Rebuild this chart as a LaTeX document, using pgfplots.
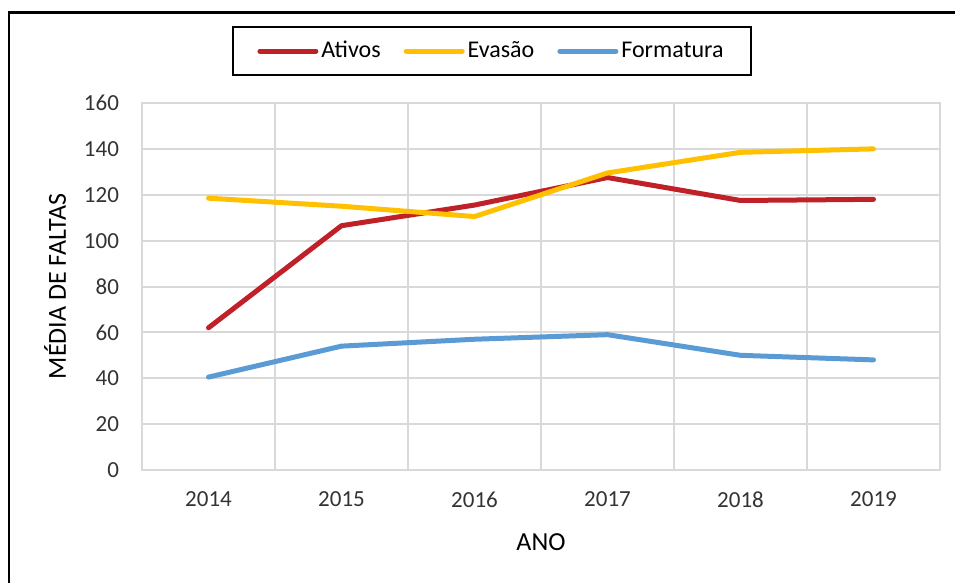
\documentclass[border=0pt]{standalone}
\usepackage{pgfplots}
\pgfplotsset{compat=1.18}
\usepackage{fontspec}
\setmainfont{Carlito}
\definecolor{ativos}{RGB}{192,32,40}
\definecolor{evasao}{RGB}{255,192,0}
\definecolor{formatura}{RGB}{91,155,213}
\definecolor{gridgray}{RGB}{217,217,217}
\definecolor{ticktext}{RGB}{51,51,51}
\begin{document}
\begin{tikzpicture}
% page = 955 x 583 px, 1 px = 0.5 pt
\useasboundingbox (0pt,0pt) rectangle (477.5pt,-291.5pt);
\draw[line width=1.2pt] (4.5pt,-300pt) -- (4.5pt,-6.25pt) -- (490pt,-6.25pt);
\begin{axis}[
    at={(71pt,-235pt)}, anchor=south west,
    scale only axis,
    width=399pt, height=183.5pt,
    xmin=-0.5, xmax=5.5,
    ymin=0, ymax=160,
    xtick={0,1,2,3,4,5},
    xticklabels={2014,2015,2016,2017,2018,2019},
    minor xtick={-0.5,0.5,1.5,2.5,3.5,4.5,5.5},
    ytick={0,20,40,60,80,100,120,140,160},
    xminorgrids, ymajorgrids,
    major tick length=0pt, minor tick length=0pt,
    axis line style={draw=gridgray, line width=1pt},
    grid style={draw=gridgray, line width=1pt},
    minor grid style={draw=gridgray, line width=1pt},
    /pgf/number format/assume math mode=true,
    tick label style={font=\fontsize{11.5}{13}\selectfont, text=ticktext},
    yticklabel style={xshift=-8pt},
    xticklabel style={yshift=-7.5pt},
    xlabel={ANO},
    ylabel={MÉDIA DE FALTAS},
    label style={font=\fontsize{13}{15}\selectfont},
    xlabel style={at={(axis description cs:0.5,0)}, anchor=center, yshift=-36pt},
    ylabel style={at={(axis description cs:0,0.5)}, anchor=center, yshift=43.5pt},
    legend columns=3,
    legend cell align=left,
    legend image code/.code={\draw[#1] (0pt,0pt) -- (28pt,0pt);},
    legend style={
        at={(axis description cs:0.4386,1.1417)}, anchor=center,
        draw=black, line width=1pt,
        font=\fontsize{12}{14}\selectfont,
        inner xsep=12pt, inner ysep=5pt,
        nodes={inner xsep=1.5pt},
        /tikz/every even column/.append style={column sep=10pt},
    },
    every axis plot/.append style={line width=2.5pt, line cap=round, line join=round},
]
\addplot[color=ativos] coordinates {(0,62) (1,106.5) (2,115.5) (3,127.5) (4,117.5) (5,118)};
\addlegendentry{Ativos}
\addplot[color=evasao] coordinates {(0,118.5) (1,115) (2,110.5) (3,129.5) (4,138.5) (5,140)};
\addlegendentry{Evasão}
\addplot[color=formatura] coordinates {(0,40.5) (1,54) (2,57) (3,59) (4,50) (5,48)};
\addlegendentry{Formatura}
\end{axis}
\end{tikzpicture}
\end{document}
